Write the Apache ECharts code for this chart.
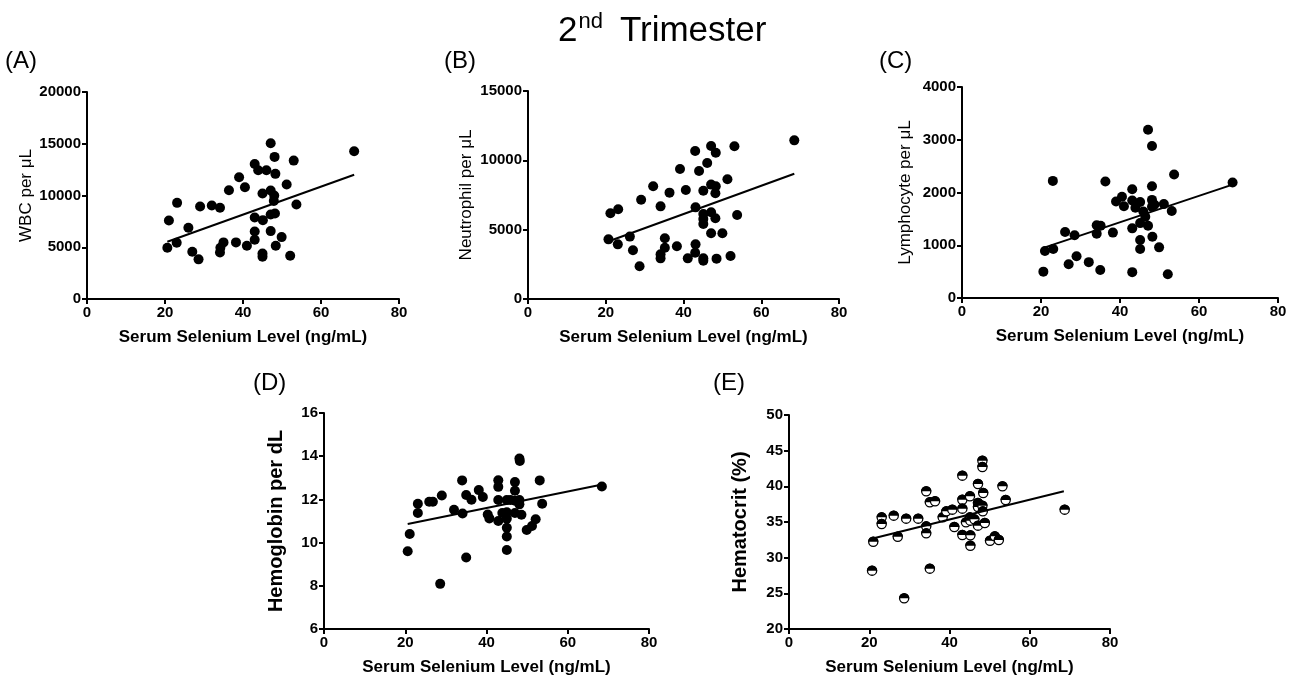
<!DOCTYPE html>
<html>
<head>
<meta charset="utf-8">
<script src="https://cdn.jsdelivr.net/npm/echarts@6/dist/echarts.min.js"></script>
<style>
html,body{margin:0;padding:0;background:#fff;}
#chart{width:1301px;height:685px;}
</style>
</head>
<body>
<div id="chart"></div>
<script>
// ---------- DATA ----------
const xTicks = [0, 20, 40, 60, 80];
const panelLabels = ['(A)', '(B)', '(C)', '(D)', '(E)'];
const yNames = ['WBC per μL', 'Neutrophil per μL', 'Lymphocyte per μL', 'Hemoglobin per dL', 'Hematocrit (%)'];
const xName = 'Serum Selenium Level (ng/mL)';

const wbcPoints = [[20.6,4950],[21.0,7590],[23.1,9290],[23.0,5430],[26.0,6880],[27.0,4570],[28.6,3830],[29.0,8940],[32.0,9030],[34.1,8810],[34.1,4500],[34.2,4950],[35.0,5470],[36.4,10510],[38.2,5470],[39.0,11770],[40.5,10800],[41.0,5140],[43.0,13050],[43.0,7880],[43.0,6530],[43.0,5720],[43.9,12440],[45.0,10190],[45.1,7620],[45.0,4400],[45.0,4080],[46.0,12440],[47.1,15050],[47.1,10480],[47.1,8170],[47.1,6560],[48.1,13730],[48.3,12090],[48.0,10000],[47.9,9480],[48.2,8260],[48.4,5140],[49.9,5980],[51.2,11060],[52.1,4180],[53.0,13370],[53.7,9130],[68.5,14270]];
const wbcFit = [[20.6,5530],[68.5,12000]];

const neutroPoints = [[20.7,4300],[21.2,6180],[23.1,3940],[23.2,6470],[26.2,4500],[27.0,3510],[28.7,2360],[29.1,7160],[32.2,8130],[34.1,6680],[34.1,3220],[34.1,2930],[35.2,4380],[35.2,3700],[36.4,7670],[38.3,3800],[39.1,9380],[40.6,7860],[41.1,2930],[43.0,10670],[43.1,6610],[43.1,3940],[43.0,3340],[44.0,9230],[45.1,7810],[45.1,6130],[45.1,5770],[45.1,5410],[45.1,2930],[45.1,2760],[46.1,9810],[47.1,11030],[47.1,8250],[47.1,6250],[47.1,4740],[48.3,10550],[48.3,8130],[48.2,7620],[48.2,5820],[48.5,2910],[50.0,4740],[51.3,8630],[52.1,3100],[53.1,11010],[53.8,6060],[68.5,11440]];
const neutroFit = [[20.6,4150],[68.5,9030]];

const lymphoPoints = [[20.6,500],[21.0,890],[23.0,2220],[23.1,930],[26.1,1250],[27.0,640],[28.5,1190],[29.0,790],[32.1,680],[34.1,1380],[34.1,1220],[35.1,1370],[35.0,530],[36.3,2210],[38.2,1240],[39.0,1830],[40.5,1920],[41.0,1740],[43.1,2060],[43.1,1850],[43.1,1320],[43.1,490],[43.9,1710],[45.1,1820],[45.1,1420],[45.1,1100],[45.1,930],[45.9,1640],[46.4,1540],[47.1,1370],[47.1,3190],[48.1,2880],[48.1,2120],[48.1,1860],[48.1,1730],[48.2,1160],[48.7,1770],[49.9,960],[51.1,1780],[52.1,450],[53.1,1650],[53.7,2340],[68.5,2190]];
const lymphoFit = [[20.6,950],[68.5,2150]];

const hbPoints = [[20.6,9.60],[21.1,10.40],[23.1,11.80],[23.1,11.37],[25.9,11.89],[26.8,11.89],[29.0,12.18],[28.6,8.09],[32.0,11.52],[34.0,12.88],[34.1,11.35],[35.0,9.31],[35.0,12.20],[36.3,11.98],[38.1,12.43],[39.1,12.11],[40.3,11.30],[40.7,11.12],[42.9,12.89],[42.9,12.58],[42.9,11.97],[42.9,11.00],[43.9,11.37],[45.0,11.97],[45.0,11.40],[45.0,11.11],[45.0,10.69],[45.0,10.28],[45.0,9.66],[45.9,11.97],[47.0,12.80],[47.0,12.40],[47.0,11.37],[47.0,11.94],[48.1,13.89],[48.2,13.78],[48.1,11.97],[48.1,11.77],[48.6,11.29],[49.9,10.58],[51.2,10.77],[52.1,11.08],[53.1,12.88],[53.7,11.80],[68.4,12.60]];
const hbFit = [[20.6,10.86],[68.5,12.69]];

const hctPoints = [[20.7,28.18],[21.0,32.24],[23.1,35.65],[23.1,34.72],[26.1,35.89],[27.1,32.94],[29.2,35.47],[28.7,24.30],[32.2,35.47],[34.2,39.30],[34.2,34.39],[34.2,33.41],[35.1,28.46],[35.1,37.76],[36.4,37.90],[38.3,35.65],[39.2,36.49],[40.7,36.73],[41.2,34.30],[43.2,41.50],[43.2,38.13],[43.2,36.87],[43.2,33.18],[44.1,34.95],[45.1,38.60],[45.1,35.65],[45.2,35.19],[45.2,33.13],[45.2,31.68],[46.2,35.37],[47.1,40.33],[47.1,37.66],[47.1,37.10],[47.1,34.49],[48.2,43.60],[48.2,42.71],[48.2,37.29],[48.3,36.49],[48.4,39.07],[48.8,34.86],[50.1,32.38],[51.3,32.99],[52.3,32.48],[53.2,40.00],[54.0,38.08],[68.7,36.73]];
const hctFit = [[20.6,32.65],[68.5,39.30]];

const yRanges = [[0,20000,5000],[0,15000,5000],[0,4000,1000],[6,16,2],[20,50,5]];

// ---------- LAYOUT ----------
const FONT = "'Liberation Sans', Arial, sans-serif";
const grids = [
  {left:87, top:92, width:312, height:207},
  {left:528, top:91, width:311, height:208},
  {left:962, top:87, width:316, height:211},
  {left:324, top:413, width:325, height:216},
  {left:789, top:415, width:321, height:214}
];
const labelPos = [[5,49],[444,49],[879,49],[253,371],[713,371]];
const yNameStyle = [
  {size:17, weight:'normal', gap:52},
  {size:17, weight:'normal', gap:53},
  {size:17, weight:'normal', gap:48},
  {size:20, weight:'bold', gap:38},
  {size:20, weight:'bold', gap:39}
];

const chart = echarts.init(document.getElementById('chart'), null, {renderer:'canvas'});

const axisCommon = {
  axisLine:{show:true, onZero:false, lineStyle:{color:'#000', width:2}},
  axisTick:{show:true, inside:false, length:5, lineStyle:{color:'#000', width:2}},
  splitLine:{show:false},
  axisLabel:{color:'#000', fontFamily:FONT, fontWeight:'bold', fontSize:15, margin:6,
    formatter:function(v){ return String(v); }}
};

const xAxes = grids.map((g,i)=>Object.assign({}, axisCommon, {
  type:'value', gridIndex:i, min:xTicks[0], max:xTicks[xTicks.length-1], interval:20,
  name:xName, nameLocation:'middle', nameGap:30,
  nameTextStyle:{color:'#000', fontFamily:FONT, fontWeight:'bold', fontSize:17}
}));
const yAxes = grids.map((g,i)=>Object.assign({}, axisCommon, {
  type:'value', gridIndex:i, min:yRanges[i][0], max:yRanges[i][1], interval:yRanges[i][2],
  name:yNames[i], nameLocation:'middle', nameGap:yNameStyle[i].gap,
  nameTextStyle:{color:'#000', fontFamily:FONT, fontWeight:yNameStyle[i].weight, fontSize:yNameStyle[i].size}
}));

const pointSets = [wbcPoints, neutroPoints, lymphoPoints, hbPoints];
const fitSets = [wbcFit, neutroFit, lymphoFit, hbFit, hctFit];

const series = [];
pointSets.forEach((pts,i)=>{
  series.push({type:'scatter', xAxisIndex:i, yAxisIndex:i, data:pts, symbol:'circle', symbolSize:10,
    itemStyle:{color:'#000', opacity:1}, silent:true});
});
series.push({
  type:'custom', xAxisIndex:4, yAxisIndex:4, data:hctPoints, encode:{x:0, y:1}, silent:true,
  renderItem:function(params, api){
    const p = api.coord([api.value(0), api.value(1)]);
    const r = 4.6;
    return {type:'group', children:[
      {type:'circle', shape:{cx:p[0], cy:p[1], r:r}, style:{fill:'#fff', stroke:'#000', lineWidth:1.3}},
      {type:'sector', shape:{cx:p[0], cy:p[1], r0:0, r:r+0.6, startAngle:Math.PI, endAngle:2*Math.PI}, style:{fill:'#000'}}
    ]};
  }
});
fitSets.forEach((f,i)=>{
  series.push({type:'line', xAxisIndex:i, yAxisIndex:i, data:f, symbol:'none', silent:true,
    lineStyle:{color:'#000', width:2}, z:3});
});

const titles = [{
  text:'{a|2}{b|nd}{a|Trimester}', left:553, top:6,
  textStyle:{fontWeight:'normal', rich:{
    a:{fontFamily:FONT, fontSize:35, fontWeight:'normal', color:'#000', lineHeight:40},
    b:{fontFamily:FONT, fontSize:22, fontWeight:'normal', color:'#000', lineHeight:22, verticalAlign:'top', padding:[0,17,0,1]}
  }}
}];
panelLabels.forEach((t,i)=>{
  titles.push({text:t, left:labelPos[i][0], top:labelPos[i][1], padding:0,
    textStyle:{fontFamily:FONT, fontSize:24, fontWeight:'normal', color:'#000'}});
});

chart.setOption({
  animation:false,
  backgroundColor:'#fff',
  title:titles,
  grid:grids.map(g=>Object.assign({containLabel:false, outerBoundsMode:'none'}, g)),
  xAxis:xAxes,
  yAxis:yAxes,
  series:series
});
</script>
</body>
</html>
